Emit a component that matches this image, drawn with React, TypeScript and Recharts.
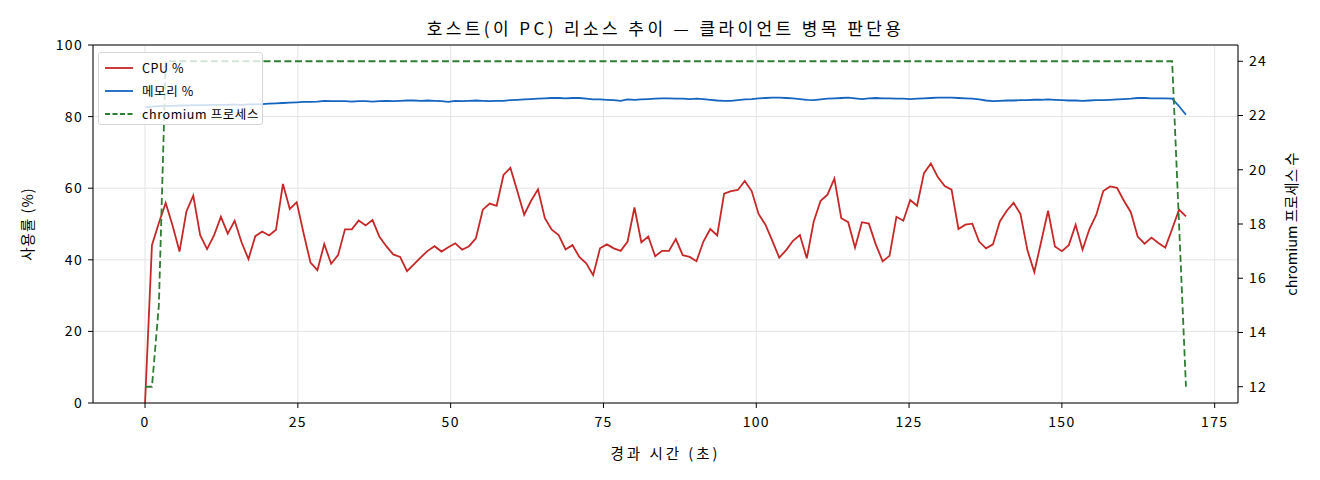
import {
  LineChart,
  Line,
  XAxis,
  YAxis,
  CartesianGrid,
  ReferenceLine,
} from "recharts";

// elapsed seconds of each sample
const elapsed = [
  0, 1.13, 2.26, 3.38, 4.51, 5.64, 6.77, 7.89, 9.02, 10.15,
  11.28, 12.41, 13.53, 14.66, 15.79, 16.92, 18.04, 19.17, 20.3, 21.43,
  22.56, 23.68, 24.81, 25.94, 27.07, 28.2, 29.32, 30.45, 31.58, 32.71,
  33.83, 34.96, 36.09, 37.22, 38.35, 39.47, 40.6, 41.73, 42.86, 43.98,
  45.11, 46.24, 47.37, 48.5, 49.62, 50.75, 51.88, 53.01, 54.13, 55.26,
  56.39, 57.52, 58.65, 59.77, 60.9, 62.03, 63.16, 64.29, 65.41, 66.54,
  67.67, 68.8, 69.92, 71.05, 72.18, 73.31, 74.44, 75.56, 76.69, 77.82,
  78.95, 80.07, 81.2, 82.33, 83.46, 84.59, 85.71, 86.84, 87.97, 89.1,
  90.22, 91.35, 92.48, 93.61, 94.74, 95.86, 96.99, 98.12, 99.25, 100.38,
  101.5, 102.63, 103.76, 104.89, 106.01, 107.14, 108.27, 109.4, 110.53, 111.65,
  112.78, 113.91, 115.04, 116.16, 117.29, 118.42, 119.55, 120.68, 121.8, 122.93,
  124.06, 125.19, 126.31, 127.44, 128.57, 129.7, 130.83, 131.95, 133.08, 134.21,
  135.34, 136.46, 137.59, 138.72, 139.85, 140.98, 142.1, 143.23, 144.36, 145.49,
  146.62, 147.74, 148.87, 150.0, 151.13, 152.25, 153.38, 154.51, 155.64, 156.77,
  157.89, 159.02, 160.15, 161.28, 162.4, 163.53, 164.66, 165.79, 166.92, 168.04,
  169.17, 170.3,
];

const cpuPct = [
  0, 44.1, 50.3, 55.9, 49.5, 42.3, 53.5, 57.9, 46.9, 43.0,
  46.8, 52.0, 47.3, 50.9, 44.9, 40.2, 46.6, 47.9, 46.8, 48.4,
  61.2, 54.2, 56.1, 47.4, 39.2, 37.1, 44.4, 38.9, 41.3, 48.5,
  48.5, 51.0, 49.6, 51.1, 46.4, 43.8, 41.5, 40.8, 36.8, 38.7,
  40.7, 42.5, 43.8, 42.3, 43.5, 44.6, 42.8, 43.8, 46.0, 54.0,
  55.7, 55.1, 63.7, 65.7, 59.2, 52.6, 56.5, 59.7, 51.6, 48.4,
  46.9, 42.9, 44.1, 40.8, 39.0, 35.7, 43.2, 44.3, 43.2, 42.5,
  45.1, 54.6, 44.9, 46.5, 41.0, 42.5, 42.5, 45.8, 41.3, 40.8,
  39.6, 45.1, 48.6, 46.8, 58.5, 59.2, 59.5, 62.0, 59.2, 52.8,
  49.8, 45.3, 40.6, 42.7, 45.3, 46.9, 40.4, 50.7, 56.5, 58.2,
  62.7, 51.6, 50.5, 43.4, 50.5, 50.1, 44.3, 39.6, 41.1, 52.0,
  50.9, 56.7, 55.1, 64.2, 66.9, 63.1, 60.6, 59.6, 48.6, 49.8,
  50.1, 45.1, 43.2, 44.3, 50.7, 53.7, 55.9, 52.8, 42.7, 36.6,
  45.1, 53.7, 43.7, 42.4, 44.1, 49.8, 42.8, 48.6, 52.6, 59.2,
  60.5, 60.1, 56.5, 53.3, 46.5, 44.5, 46.2, 44.7, 43.4, 48.6,
  54.0, 52.1,
];

const memPct = [
  82.6, 82.8, 82.9, 83.0, 83.0, 83.1, 83.1, 83.2, 83.2, 83.2,
  83.3, 83.3, 83.3, 83.4, 83.3, 83.4, 83.4, 83.5, 83.6, 83.7,
  83.8, 83.9, 84.0, 84.1, 84.1, 84.2, 84.4, 84.3, 84.3, 84.3,
  84.2, 84.3, 84.3, 84.2, 84.3, 84.4, 84.3, 84.4, 84.5, 84.5,
  84.4, 84.5, 84.4, 84.3, 84.1, 84.4, 84.3, 84.4, 84.5, 84.4,
  84.3, 84.4, 84.4, 84.6, 84.7, 84.8, 84.9, 85.0, 85.1, 85.2,
  85.2, 85.1, 85.2, 85.2, 85.0, 84.8, 84.8, 84.7, 84.6, 84.4,
  84.8, 84.7, 84.8, 84.9, 85.0, 85.1, 85.1, 85.0, 85.0, 84.9,
  85.0, 84.9, 84.7, 84.5, 84.4, 84.4, 84.6, 84.8, 84.9, 85.1,
  85.2, 85.3, 85.3, 85.2, 85.1, 84.9, 84.7, 84.6, 84.8, 85.0,
  85.1, 85.2, 85.3, 85.1, 84.9, 85.1, 85.2, 85.1, 85.1, 85.0,
  85.0, 84.9, 85.0, 85.1, 85.2, 85.3, 85.3, 85.3, 85.2, 85.1,
  85.0, 84.8, 84.5, 84.3, 84.4, 84.5, 84.5, 84.6, 84.6, 84.7,
  84.7, 84.8, 84.7, 84.6, 84.5, 84.5, 84.4, 84.5, 84.6, 84.6,
  84.7, 84.8, 84.9, 85.0, 85.2, 85.2, 85.1, 85.1, 85.1, 85.0,
  82.9, 80.5,
];

const chromiumProcs = [
  12, 12, 15, 24, 24, 24, 24, 24, 24, 24,
  24, 24, 24, 24, 24, 24, 24, 24, 24, 24,
  24, 24, 24, 24, 24, 24, 24, 24, 24, 24,
  24, 24, 24, 24, 24, 24, 24, 24, 24, 24,
  24, 24, 24, 24, 24, 24, 24, 24, 24, 24,
  24, 24, 24, 24, 24, 24, 24, 24, 24, 24,
  24, 24, 24, 24, 24, 24, 24, 24, 24, 24,
  24, 24, 24, 24, 24, 24, 24, 24, 24, 24,
  24, 24, 24, 24, 24, 24, 24, 24, 24, 24,
  24, 24, 24, 24, 24, 24, 24, 24, 24, 24,
  24, 24, 24, 24, 24, 24, 24, 24, 24, 24,
  24, 24, 24, 24, 24, 24, 24, 24, 24, 24,
  24, 24, 24, 24, 24, 24, 24, 24, 24, 24,
  24, 24, 24, 24, 24, 24, 24, 24, 24, 24,
  24, 24, 24, 24, 24, 24, 24, 24, 24, 24,
  18, 12,
];

const xTicks = [0, 25, 50, 75, 100, 125, 150, 175];
const leftTicks = [0, 20, 40, 60, 80, 100];
const rightTicks = [12, 14, 16, 18, 20, 22, 24];

const RED = "#c62828";
const BLUE = "#1565c0";
const GREEN = "#2e7d32";
const FONT = "'Noto Sans CJK KR', 'Noto Sans', sans-serif";

const rows = elapsed.map((t, i) => ({
  t,
  cpu: cpuPct[i],
  mem: memPct[i],
  proc: chromiumProcs[i],
}));

const legendItems = [
  { label: "CPU %", color: RED, dash: undefined },
  { label: "메모리 %", color: BLUE, dash: undefined },
  { label: "chromium 프로세스", color: GREEN, dash: "5 2.5" },
];

const tickStyle = { fill: "#000", fontSize: 14, fontFamily: FONT, letterSpacing: 1.3 };
const labelStyle = { fill: "#000", fontSize: 14.5, fontFamily: FONT };

export default function App() {
  return (
    <div
      style={{
        position: "fixed",
        left: 0,
        top: 0,
        width: 1320,
        height: 480,
        background: "#fff",
        fontFamily: FONT,
      }}
    >
      <div
        style={{
          position: "absolute",
          left: 93,
          width: 1145,
          top: 17,
          textAlign: "center",
          fontSize: 17,
          letterSpacing: 3.4,
          color: "#000",
          lineHeight: "22px",
        }}
      >
        호스트(이 PC) 리소스 추이 — 클라이언트 병목 판단용
      </div>

      <LineChart
        width={1320}
        height={480}
        data={rows}
        margin={{ top: 45, right: 0, bottom: 0, left: 0 }}
      >
        <CartesianGrid yAxisId="left" stroke="#e4e4e4" strokeWidth={1} />
        <XAxis
          dataKey="t"
          type="number"
          domain={[-8.515, 178.815]}
          ticks={xTicks}
          interval={0}
          allowDataOverflow
          height={77}
          stroke="#000"
          tickSize={5}
          tickMargin={9}
          tick={tickStyle}
          label={{
            value: "경과 시간 (초)",
            position: "insideBottom",
            offset: 21,
            style: { ...labelStyle, letterSpacing: 3 },
          }}
        />
        <YAxis
          yAxisId="left"
          width={93}
          domain={[0, 100]}
          ticks={leftTicks}
          interval={0}
          stroke="#000"
          tickSize={5}
          tickMargin={5}
          tick={tickStyle}
          label={{
            value: "사용률 (%)",
            angle: -90,
            position: "insideLeft",
            offset: 28,
            style: { ...labelStyle, letterSpacing: 1, textAnchor: "middle" },
          }}
        />
        <YAxis
          yAxisId="right"
          orientation="right"
          width={82}
          domain={[11.4, 24.6]}
          ticks={rightTicks}
          interval={0}
          allowDataOverflow
          stroke="#000"
          tickSize={5}
          tickMargin={6}
          tick={tickStyle}
          label={{
            value: "chromium 프로세스 수",
            angle: -90,
            position: "insideRight",
            offset: 28,
            style: { ...labelStyle, letterSpacing: 0, textAnchor: "middle" },
          }}
        />
        <ReferenceLine yAxisId="left" y={100} stroke="#000" strokeWidth={1} />
        <Line
          yAxisId="left"
          type="linear"
          dataKey="cpu"
          stroke={RED}
          strokeWidth={1.8}
          dot={false}
          isAnimationActive={false}
        />
        <Line
          yAxisId="left"
          type="linear"
          dataKey="mem"
          stroke={BLUE}
          strokeWidth={1.8}
          dot={false}
          isAnimationActive={false}
        />
        <Line
          yAxisId="right"
          type="linear"
          dataKey="proc"
          stroke={GREEN}
          strokeWidth={1.8}
          strokeDasharray="7 3.5"
          dot={false}
          isAnimationActive={false}
        />
      </LineChart>

      <div
        style={{
          position: "absolute",
          left: 98,
          top: 52,
          width: 165,
          height: 73,
          boxSizing: "border-box",
          border: "1px solid #d6d6d6",
          borderRadius: 3,
          background: "rgba(255,255,255,0.8)",
          padding: "3px 0 0 6px",
        }}
      >
        {legendItems.map((item) => (
          <div
            key={item.label}
            style={{
              display: "flex",
              alignItems: "center",
              height: 23,
              fontSize: 12.5,
              letterSpacing: 0.6,
              color: "#000",
              whiteSpace: "nowrap",
            }}
          >
            <svg width={28} height={8} style={{ marginRight: 9 }}>
              <line
                x1={0}
                y1={4}
                x2={28}
                y2={4}
                stroke={item.color}
                strokeWidth={1.8}
                strokeDasharray={item.dash}
              />
            </svg>
            {item.label}
          </div>
        ))}
      </div>
    </div>
  );
}
